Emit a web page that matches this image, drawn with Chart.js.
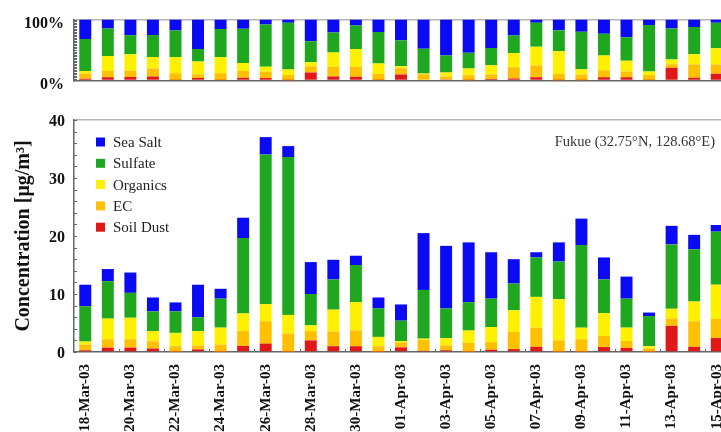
<!DOCTYPE html>
<html>
<head>
<meta charset="utf-8">
<script src="https://cdn.jsdelivr.net/npm/chart.js@4.4.1/dist/chart.umd.min.js"></script>
<style>
  html, body { margin: 0; padding: 0; background: #fff; overflow: hidden; width: 721px; height: 432px; }
  #wrap { position: relative; width: 721px; height: 432px; overflow: hidden; }
  #topChart { position: absolute; left: 0; top: 0; }
  #mainChart { position: absolute; left: 0; top: 100px; }
</style>
</head>
<body>
<div id="wrap">
  <canvas id="topChart" width="740" height="100"></canvas>
  <canvas id="mainChart" width="740" height="340"></canvas>
</div>
<script>
// Daily aerosol composition at Fukue, 18-Mar-03 .. 15-Apr-03 (µg/m³)
const dates = [
  '18-Mar-03','19-Mar-03','20-Mar-03','21-Mar-03','22-Mar-03','23-Mar-03','24-Mar-03',
  '25-Mar-03','26-Mar-03','27-Mar-03','28-Mar-03','29-Mar-03','30-Mar-03','31-Mar-03',
  '01-Apr-03','02-Apr-03','03-Apr-03','04-Apr-03','05-Apr-03','06-Apr-03','07-Apr-03',
  '08-Apr-03','09-Apr-03','10-Apr-03','11-Apr-03','12-Apr-03','13-Apr-03','14-Apr-03','15-Apr-03'
];
const soilDust = [0.3, 0.75, 0.75, 0.6, 0.05, 0.45, 0.05, 1.05, 1.45, 0.05, 2.0, 1.0, 1.0, 0.05,
                  0.8, 0.2, 0.3, 0.05, 0.4, 0.5, 0.9, 0.05, 0.05, 0.85, 0.7, 0.05, 4.5, 0.9, 2.4];
const ec       = [1.0, 1.45, 1.45, 1.25, 0.95, 0.7, 1.25, 2.55, 3.85, 3.15, 1.6, 2.55, 2.7, 0.95,
                  0.85, 1.9, 0.85, 1.55, 1.3, 2.95, 3.3, 1.95, 2.15, 1.9, 1.2, 0.55, 1.25, 4.4, 3.3];
const organics = [0.5, 3.55, 3.7, 1.75, 2.3, 2.45, 2.9, 3.05, 2.95, 3.2, 1.0, 3.75, 4.9, 1.6,
                  0.25, 0.2, 1.25, 2.1, 2.6, 3.75, 5.3, 7.1, 2.0, 3.95, 2.3, 0.4, 1.7, 3.4, 5.9];
const sulfate  = [6.1, 6.45, 4.3, 3.4, 3.7, 2.4, 5.0, 13.0, 25.8, 27.2, 5.4, 5.2, 6.4, 4.9,
                  3.5, 8.4, 5.1, 4.9, 4.9, 4.6, 6.8, 6.5, 14.25, 5.8, 5.0, 5.2, 11.1, 9.0, 9.15];
const seaSalt  = [3.7, 2.1, 3.5, 2.4, 1.55, 5.6, 1.7, 3.5, 3.0, 1.9, 5.5, 3.4, 1.6, 1.9,
                  2.8, 9.8, 10.8, 10.3, 8.0, 4.2, 0.9, 3.3, 4.55, 3.8, 3.8, 0.6, 3.2, 2.5, 1.15];
const concTicks = [0, 10, 20, 30, 40];
const shareTicks = [0, 100];

const SERIF = "'Liberation Serif', 'DejaVu Serif', serif";
const COLORS = {
  seaSalt: '#0a0af5', sulfate: '#1fa81f', organics: '#fff000', ec: '#ffc000', soilDust: '#e01818'
};

// stacking order: bottom to top
const series = [
  { label: 'Soil Dust', data: soilDust, color: COLORS.soilDust },
  { label: 'EC',        data: ec,       color: COLORS.ec },
  { label: 'Organics',  data: organics, color: COLORS.organics },
  { label: 'Sulfate',   data: sulfate,  color: COLORS.sulfate },
  { label: 'Sea Salt',  data: seaSalt,  color: COLORS.seaSalt }
];

const totals = dates.map((_, i) => series.reduce((s, d) => s + d.data[i], 0));
const toShare = arr => arr.map((v, i) => v / totals[i] * 100);

function makeDatasets(share) {
  return series.map(s => ({
    label: s.label,
    data: share ? toShare(s.data) : s.data,
    backgroundColor: s.color,
    borderWidth: 0,
    barPercentage: 0.9,
    categoryPercentage: 0.59
  }));
}

// small inward tick marks along the left axis and the x axis
function minorTicks(step, xEvery) {
  return {
    id: 'minorTicks',
    afterDraw(chart) {
      const { ctx, chartArea: a, scales: { x, y } } = chart;
      ctx.save();
      ctx.strokeStyle = '#666';
      ctx.lineWidth = 1;
      ctx.beginPath();
      for (let v = y.min; v <= y.max + 1e-6; v += step) {
        const py = Math.round(y.getPixelForValue(v)) + 0.5;
        ctx.moveTo(a.left, py);
        ctx.lineTo(a.left + 3, py);
      }
      if (xEvery) {
        for (let i = 1; i < dates.length; i += xEvery) {
          const px = Math.round((x.getPixelForValue(i) + x.getPixelForValue(i + 1)) / 2) + 0.5;
          ctx.moveTo(px, a.bottom);
          ctx.lineTo(px, a.bottom - 3);
        }
      }
      ctx.stroke();
      ctx.restore();
    }
  };
}

// legend inside the plot and the site label
const insideLegend = {
  id: 'insideLegend',
  afterDraw(chart) {
    const { ctx, chartArea: a } = chart;
    ctx.save();
    ctx.font = '15px ' + SERIF;
    ctx.textBaseline = 'middle';
    ctx.textAlign = 'left';
    const items = chart.data.datasets.slice().reverse();
    items.forEach((ds, k) => {
      const cy = a.top + 22 + k * 21.3;
      ctx.fillStyle = ds.backgroundColor;
      ctx.fillRect(a.left + 22, cy - 4.5, 9, 9);
      ctx.fillStyle = '#222';
      ctx.fillText(ds.label, a.left + 39, cy + 1);
    });
    ctx.font = '14.5px ' + SERIF;
    ctx.fillStyle = '#333';
    ctx.textAlign = 'right';
    ctx.fillText('Fukue (32.75\u00B0N, 128.68\u00B0E)', 715, a.top + 22);
    ctx.restore();
  }
};

const fixWidth = w => scale => { scale.width = w; };
const fixHeight = h => scale => { scale.height = h; };

// upper panel: relative composition
new Chart(document.getElementById('topChart'), {
  type: 'bar',
  data: { labels: dates, datasets: makeDatasets(true) },
  options: {
    responsive: false,
    animation: false,
    layout: { padding: { top: 18, right: 12, left: 0, bottom: 0 } },
    plugins: { legend: { display: false }, tooltip: { enabled: false } },
    scales: {
      x: {
        stacked: true,
        grid: { display: false },
        border: { display: true, color: '#666', width: 1.5 },
        ticks: { display: false },
        afterFit: fixHeight(7)
      },
      y: {
        stacked: true,
        min: 0, max: 100,
        afterBuildTicks: scale => { scale.ticks = shareTicks.map(v => ({ value: v })); },
        grid: {
          drawTicks: false,
          color: c => (c.tick && c.tick.value === 100) ? '#b5b5b5' : 'rgba(0,0,0,0)',
          lineWidth: 1.5
        },
        border: { display: true, color: '#666', width: 1.5 },
        ticks: {
          padding: 10,
          labelOffset: 4,
          color: '#111',
          font: { family: SERIF, size: 16, weight: 'bold' },
          callback: v => v + '%'
        },
        afterFit: fixWidth(74)
      }
    }
  },
  plugins: [minorTicks(2.5, 0)]
});

// lower panel: concentrations
new Chart(document.getElementById('mainChart'), {
  type: 'bar',
  data: { labels: dates, datasets: makeDatasets(false) },
  options: {
    responsive: false,
    animation: false,
    layout: { padding: { top: 20, right: 12, left: 0, bottom: 0 } },
    plugins: { legend: { display: false }, tooltip: { enabled: false } },
    scales: {
      x: {
        stacked: true,
        grid: { display: false },
        border: { display: true, color: '#666', width: 1.5 },
        ticks: {
          autoSkip: false,
          maxRotation: 90,
          minRotation: 90,
          padding: 4,
          color: '#111',
          font: { family: SERIF, size: 15, weight: 'bold' },
          callback: (v, i) => (i % 2 === 0 ? dates[i] : '')
        },
        afterFit: fixHeight(88)
      },
      y: {
        stacked: true,
        min: 0, max: 40,
        afterBuildTicks: scale => { scale.ticks = concTicks.map(v => ({ value: v })); },
        grid: {
          drawTicks: false,
          color: c => (c.tick && c.tick.value === 40) ? '#b5b5b5' : 'rgba(0,0,0,0)',
          lineWidth: 1.5
        },
        border: { display: true, color: '#666', width: 1.5 },
        ticks: {
          padding: 9,
          labelOffset: 2,
          color: '#111',
          font: { family: SERIF, size: 16, weight: 'bold' }
        },
        title: {
          display: true,
          text: 'Concentration [\u03BCg/m\u00B3]',
          color: '#111',
          font: { family: SERIF, size: 20, weight: 'bold' },
          padding: { top: 12, bottom: 0 }
        },
        afterFit: fixWidth(74)
      }
    }
  },
  plugins: [minorTicks(2, 2), insideLegend]
});
</script>
</body>
</html>
